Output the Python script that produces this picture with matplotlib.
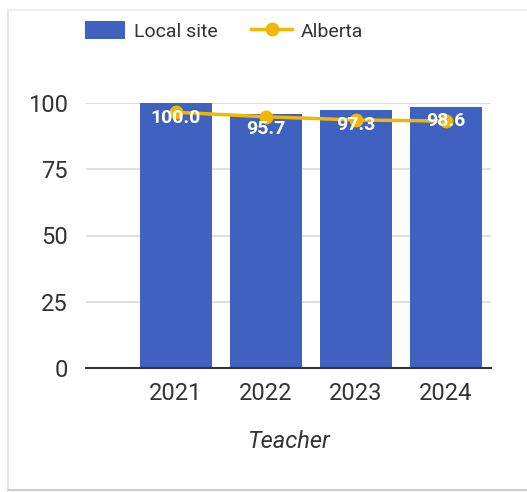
import matplotlib.pyplot as plt
from matplotlib.lines import Line2D
from matplotlib.patches import Patch

years = ['2021', '2022', '2023', '2024']
local_site = [100.0, 95.7, 97.3, 98.6]
alberta = [96.5, 94.8, 93.6, 93.2]

blue = '#3F62C1'
gold = '#F2B705'

plt.rcParams['font.family'] = ['Roboto', 'DejaVu Sans']

fig = plt.figure(figsize=(5.27, 4.92), dpi=100)
ax = fig.add_axes([86 / 527, 1 - 368 / 492, 405 / 527, 265 / 492])

x = list(range(len(years)))
bars = ax.bar(x, local_site, width=0.8, color=blue, zorder=2)
ax.plot(x, alberta, color=gold, lw=2.5, marker='o', ms=9, zorder=3)

# value labels inside bars, near the top
for xi, v in zip(x, local_site):
    ax.annotate(f'{v:.1f}', (xi, v), xytext=(0, -4), textcoords='offset points',
                ha='center', va='top', color='white', fontsize=14,
                fontweight='bold', zorder=4)

ax.set_xlim(-1.0, 3.5)
ax.set_ylim(0, 100)
ax.set_yticks([0, 25, 50, 75, 100])
ax.set_xticks(x)
ax.set_xticklabels(years)
ax.tick_params(axis='both', length=0, labelsize=17, labelcolor='#333333')
ax.tick_params(axis='x', pad=10)
ax.tick_params(axis='y', pad=13)
ax.grid(axis='y', color='#d9d9d9', lw=1.2, zorder=0)
for s in ['top', 'right', 'left']:
    ax.spines[s].set_visible(False)
ax.spines['bottom'].set_color('#333333')
ax.spines['bottom'].set_linewidth(1.5)
ax.spines['bottom'].set_zorder(5)

ax.set_xlabel('Teacher', fontsize=17, style='italic', color='#333333', labelpad=18)

handles = [Patch(facecolor=blue, label='Local site'),
           Line2D([0], [0], color=gold, lw=2.5, marker='o', ms=9, label='Alberta')]
fig.legend(handles=handles, loc='center left', bbox_to_anchor=(67 / 527, 1 - 31 / 492),
           ncol=2, frameon=False, fontsize=14, handlelength=2.1, handleheight=1.07,
           columnspacing=1.75, handletextpad=0.43, labelcolor='#333333')

# light card border
fig.add_artist(Line2D([8 / 527, 8 / 527], [2 / 492, 1 - 10 / 492], color='#e6e6e6', lw=1.5))
fig.add_artist(Line2D([8 / 527, 1], [1 - 10 / 492, 1 - 10 / 492], color='#eeeeee', lw=1.5))
fig.add_artist(Line2D([8 / 527, 1], [2 / 492, 2 / 492], color='#cccccc', lw=1.5))

fig.savefig('out.png', dpi=100)
